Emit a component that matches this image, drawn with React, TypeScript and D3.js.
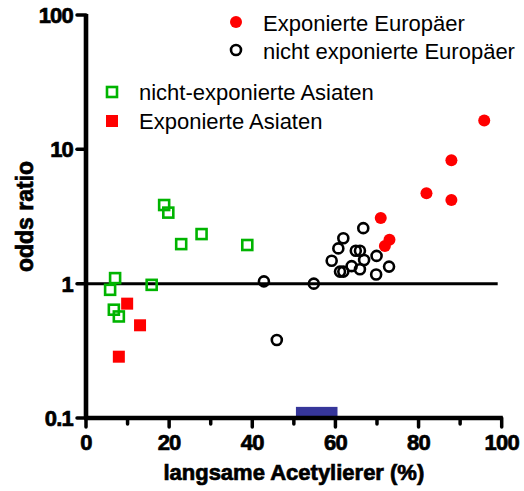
import React from "react";
import * as d3 from "d3";

// ---- data (x: langsame Acetylierer %, y: odds ratio) ----
const exposedEuropeans: [number, number][] = [
  [95.8, 16.4], [87.9, 8.3], [81.9, 4.71], [87.9, 4.2], [70.9, 3.08], [73.0, 2.12], [71.9, 1.91],
];
const nonExposedEuropeans: [number, number][] = [
  [66.7, 2.59], [61.9, 2.18], [60.7, 1.83], [64.9, 1.76], [65.9, 1.76], [59.1, 1.48],
  [66.9, 1.5], [69.9, 1.61], [63.9, 1.35], [65.9, 1.28], [61.1, 1.23], [61.9, 1.23],
  [69.8, 1.17], [72.9, 1.34], [54.8, 1.0], [42.8, 1.04], [45.9, 0.381],
];
const nonExposedAsians: [number, number][] = [
  [18.8, 3.85], [19.8, 3.38], [22.9, 1.97], [27.8, 2.34], [38.8, 1.94],
  [7.0, 1.1], [5.8, 0.9], [15.8, 0.98], [6.7, 0.64], [7.9, 0.57],
];
const exposedAsians: [number, number][] = [
  [9.9, 0.71], [13.0, 0.49], [7.9, 0.286],
];
const rangeBarX: [number, number] = [50.5, 60.5];
const rangeBarY: [number, number] = [0.1, 0.121];

const xMajorTicks = [0, 20, 40, 60, 80, 100];
const xMinorTicks = [10, 30, 50, 70, 90];
const yTicks = [0.1, 1, 10, 100];
const yTickLabels = ["0.1", "1", "10", "100"];
const referenceLevel = 1;

const legendEuropeans = ["Exponierte Europäer", "nicht exponierte Europäer"];
const legendAsians = ["nicht-exponierte Asiaten", "Exponierte Asiaten"];

const RED = "#ff0000";
const GREEN = "#00b400";
const BLUE = "#36369a";
const FONT = "'Liberation Sans', Arial, Helvetica, sans-serif";
const heavy = { fontFamily: FONT, fontWeight: "bold" as const, stroke: "#000", strokeWidth: 0.7 };

export default function App() {
  const W = 524, H = 491;
  const x = d3.scaleLinear().domain([0, 100]).range([86, 501.7]);
  const y = d3.scaleLog().domain([0.1, 100]).range([418, 15]);
  const x0 = x(0), y0 = y(0.1);

  const sq = 10; // open square side
  const fsq = 12; // filled square side

  return (
    <div style={{ position: "fixed", left: 0, top: 0 }}>
      <svg width={W} height={H} viewBox={`0 0 ${W} ${H}`} style={{ display: "block", background: "#fff" }}>
        {/* range bar */}
        <rect
          x={x(rangeBarX[0])}
          y={y(rangeBarY[1])}
          width={x(rangeBarX[1]) - x(rangeBarX[0])}
          height={y(rangeBarY[0]) - y(rangeBarY[1])}
          fill={BLUE}
        />
        {/* reference line */}
        <line x1={x0} x2={x(100) - 4} y1={y(referenceLevel)} y2={y(referenceLevel)} stroke="#000" strokeWidth={3} />

        {/* axes */}
        <line x1={x0} x2={x0} y1={y(100) - 1} y2={y0} stroke="#000" strokeWidth={4.6} />
        <line x1={x0 - 2} x2={x(100) + 1} y1={y0} y2={y0} stroke="#000" strokeWidth={4.6} />
        {yTicks.map((t, i) => (
          <g key={"yt" + t}>
            <line x1={x0 - 9} x2={x0} y1={y(t)} y2={y(t)} stroke="#000" strokeWidth={3.5} strokeLinecap="round" />
            <text x={73} y={y(t)} dy="0.36em" textAnchor="end" {...heavy} fontSize={22} letterSpacing={-0.8}>
              {yTickLabels[i]}
            </text>
          </g>
        ))}
        {xMajorTicks.map((t) => (
          <g key={"xt" + t}>
            <line x1={x(t)} x2={x(t)} y1={y0} y2={y0 + 9} stroke="#000" strokeWidth={3.5} strokeLinecap="round" />
            <text x={x(t)} y={450} textAnchor="middle" {...heavy} fontSize={22} letterSpacing={-0.8}>
              {t}
            </text>
          </g>
        ))}
        {xMinorTicks.map((t) => (
          <line key={"xm" + t} x1={x(t)} x2={x(t)} y1={y0} y2={y0 + 6} stroke="#000" strokeWidth={3.5} strokeLinecap="round" />
        ))}
        <text x={(x(0) + x(100)) / 2} y={480} textAnchor="middle" {...heavy} fontSize={22}>
          langsame Acetylierer (%)
        </text>
        <text
          transform={`translate(33, ${(y(0.1) + y(100)) / 2}) rotate(-90)`}
          textAnchor="middle"
          {...heavy}
          fontSize={23}
        >
          odds ratio
        </text>

        {/* data */}
        {nonExposedAsians.map(([a, b], i) => (
          <rect key={"na" + i} x={x(a) - sq / 2} y={y(b) - sq / 2} width={sq} height={sq} fill="none" stroke={GREEN} strokeWidth={2.6} />
        ))}
        {exposedAsians.map(([a, b], i) => (
          <rect key={"ea" + i} x={x(a) - fsq / 2} y={y(b) - fsq / 2} width={fsq} height={fsq} fill={RED} />
        ))}
        {nonExposedEuropeans.map(([a, b], i) => (
          <circle key={"ne" + i} cx={x(a)} cy={y(b)} r={5} fill="none" stroke="#000" strokeWidth={2.6} />
        ))}
        {exposedEuropeans.map(([a, b], i) => (
          <circle key={"ee" + i} cx={x(a)} cy={y(b)} r={6} fill={RED} />
        ))}

        {/* legends */}
        <circle cx={236} cy={22} r={6} fill={RED} />
        <text x={263} y={31} fontFamily={FONT} fontSize={22}>{legendEuropeans[0]}</text>
        <circle cx={236} cy={50} r={5} fill="none" stroke="#000" strokeWidth={2.6} />
        <text x={263} y={59} fontFamily={FONT} fontSize={22}>{legendEuropeans[1]}</text>

        <rect x={112 - sq / 2} y={92 - sq / 2} width={sq} height={sq} fill="none" stroke={GREEN} strokeWidth={2.6} />
        <text x={139} y={100} fontFamily={FONT} fontSize={22}>{legendAsians[0]}</text>
        <rect x={112 - fsq / 2} y={121 - fsq / 2} width={fsq} height={fsq} fill={RED} />
        <text x={139} y={129} fontFamily={FONT} fontSize={22}>{legendAsians[1]}</text>
      </svg>
    </div>
  );
}
